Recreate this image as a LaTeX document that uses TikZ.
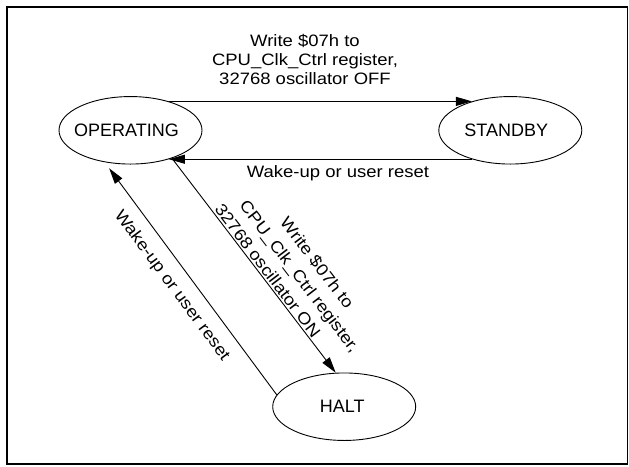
\documentclass[tikz,border=0pt]{standalone}
\usepackage{fontspec}
\setmainfont{Liberation Sans}
\usetikzlibrary{arrows.meta,shapes.geometric}
\begin{document}
\begin{tikzpicture}[x=1pt,y=-1pt,
  state/.style={ellipse, draw, line width=0.9pt, minimum width=143pt, minimum height=67.5pt,
    inner sep=0pt, font=\fontsize{18}{21.6}\selectfont},
  arr/.style={line width=0.9pt, -{Triangle[length=16pt,width=9pt]}},
  lbl/.style={font=\fontsize{16.5}{18.65}\selectfont, xscale=1.12, inner sep=0pt, align=center},
  lblwide/.style={lbl, font=\fontsize{16.5}{22}\selectfont},
  frame/.style={line width=1.2pt},
  framethick/.style={line width=2.4pt}]
\useasboundingbox (0,0) rectangle (629,466);
\fill[white] (0,0) rectangle (629,466);
% frame
\draw[frame] (7,7.1) rectangle (627.8,464);
\draw[framethick] (7,464) |- (627.8,7.1);
% states
\node[state] (op) at (130.5,130.3) {\makebox[0pt]{\kern-8pt OPERATING}};
\node[state] (sb) at (510.3,130.3) {\makebox[0pt]{\kern-8pt STANDBY}};
\node[state] (halt) at (344.2,406.7) {\makebox[0pt]{\kern-4pt HALT}};
% transitions
\draw[arr] (op.37) -- (sb.143);
\draw[arr] (sb.-143) -- (op.-37);
\draw[arr] (op.-34) -- (halt.104);
\draw[arr, shorten >=7.5pt] (halt.170) -- (op.-129);
% labels
\node[lbl] (l1) at (305,59.5) {Write \$07h to\\CPU\_Clk\_Ctrl register,\\32768 oscillator OFF};
\node[lbl, anchor=base] (l2) at (338,177.3) {Wake-up or user reset};
\node[rotate=-53.5, lbl] (l3) at (171.7,285.8) {Wake-up or user reset};
\node[rotate=-52.7, lblwide] (l4) at (299.9,276.1) {Write \$07h to\\CPU\_Clk\_Ctrl register,\\32768 oscillator ON\rule{42.5pt}{0pt}};
\end{tikzpicture}
\end{document}
